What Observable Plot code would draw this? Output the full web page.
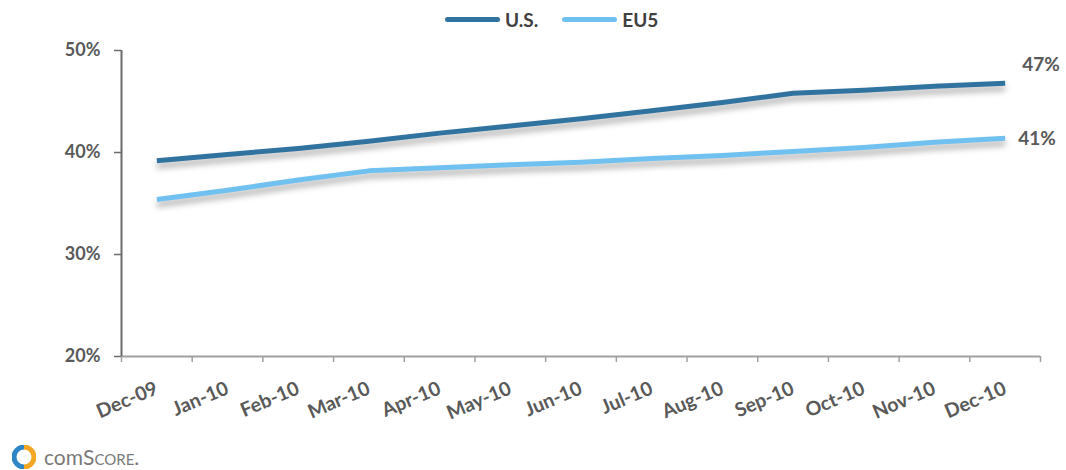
<!DOCTYPE html>
<html>
<head>
<meta charset="utf-8">
<script src="https://cdn.jsdelivr.net/npm/d3@7"></script>
<script src="https://cdn.jsdelivr.net/npm/@observablehq/plot@0.6"></script>
<style>
  html, body { margin: 0; padding: 0; background: #fff; }
  body { width: 1066px; height: 470px; position: relative; overflow: hidden; font-family: Lato, "Open Sans", sans-serif; }
  #legend { position: absolute; left: 445px; top: 5px; height: 28px; display: flex; align-items: center; font-weight: bold; font-size: 19px; color: #404040; }
  #legend .sw { display: inline-block; width: 55px; height: 5px; border-radius: 3px; margin-right: 5px; }
  #legend .item { display: flex; align-items: center; margin-right: 24px; }
  #chart { position: absolute; left: 0; top: 34px; }
  #logo { position: absolute; left: 12px; top: 444px; display: flex; align-items: center; color: #7a7a7a; font-size: 21px; }
  #logo span { font-variant: small-caps; }
</style>
</head>
<body>
<div id="legend"></div>
<div id="chart"></div>
<div id="logo"><svg width="24" height="24" viewBox="0 0 24 24"><path d="M12 2 A10 10 0 0 0 12 22" fill="none" stroke="#2f86c6" stroke-width="5"/><path d="M12 2 A10 10 0 0 1 12 22" fill="none" stroke="#f5a623" stroke-width="5"/></svg><div style="margin-left:8px">com<span>Score</span>.</div></div>
<script>
const months = ["Dec-09","Jan-10","Feb-10","Mar-10","Apr-10","May-10","Jun-10","Jul-10","Aug-10","Sep-10","Oct-10","Nov-10","Dec-10"];
const seriesNames = ["U.S.", "EU5"];
const usValues  = [39.2, 39.8, 40.4, 41.1, 41.9, 42.6, 43.3, 44.1, 44.9, 45.8, 46.1, 46.5, 46.8];
const eu5Values = [35.4, 36.3, 37.3, 38.2, 38.5, 38.8, 39.05, 39.4, 39.7, 40.1, 40.5, 41.0, 41.4];
const yTicks = [20, 30, 40, 50];
const colors = ["#31739f", "#70c1f0"];

const rows = [];
[usValues, eu5Values].forEach((vals, s) => vals.forEach((v, i) => rows.push({i, month: months[i], series: seriesNames[s], value: v})));
const lastIdx = months.length - 1;
const lastUS = rows.filter(d => d.i === lastIdx && d.series === "U.S.");
const lastEU = rows.filter(d => d.i === lastIdx && d.series === "EU5");

// legend
const lg = document.getElementById("legend");
seriesNames.forEach((nm, k) => {
  const it = document.createElement("div");
  it.className = "item";
  it.innerHTML = `<span class="sw" style="background:${colors[k]}"></span>${nm}`;
  lg.appendChild(it);
});

const n = months.length;
const plot = Plot.plot({
  width: 1066,
  height: 400,
  marginLeft: 121,
  marginRight: 26,
  marginTop: 16,
  marginBottom: 78,
  style: {fontFamily: "Lato, 'Open Sans', sans-serif", fontWeight: "bold", color: "#595959", background: "white"},
  x: {type: "linear", domain: [-0.5, n - 0.5], label: null, axis: null},
  y: {domain: [20, 50], label: null, axis: null},
  color: {domain: seriesNames, range: colors},
  marks: [
    Plot.axisY({ticks: yTicks, tickFormat: d => d + "%", tickSize: 7, tickPadding: 14, stroke: "#6b6b6b", strokeWidth: 1.5, fill: "#595959"}),
    Plot.axisX({ticks: d3.range(n + 1).map(k => k - 0.5), tickFormat: () => "", tickSize: 6, stroke: "#a0a0a0", strokeWidth: 1.5}),
    Plot.axisX({ticks: d3.range(n), tickFormat: i => months[i], tickSize: 0, tickPadding: 31, tickRotate: -23, fill: "#595959"}),
    Plot.ruleY([20], {stroke: "#a0a0a0", strokeWidth: 2}),
    Plot.ruleX([-0.5], {stroke: "#6b6b6b", strokeWidth: 2}),
    Plot.line(rows, {x: "i", y: "value", z: "series", stroke: "series", strokeWidth: 5, strokeLinecap: "butt", strokeLinejoin: "round"}),
    Plot.text(lastUS, {x: "i", y: "value", text: d => Math.round(d.value) + "%", textAnchor: "start", dx: 17, dy: -18, fill: "#595959"}),
    Plot.text(lastEU, {x: "i", y: "value", text: d => Math.round(d.value) + "%", textAnchor: "start", dx: 13, dy: 1, fill: "#595959"})
  ]
});
plot.querySelectorAll('g[aria-label="line"] path').forEach(p => {
  p.style.filter = "drop-shadow(0px 5px 3px rgba(0,0,0,0.33))";
});
plot.querySelectorAll("text").forEach(t => {
  t.style.fontSize = "18px";
  t.style.fontWeight = "bold";
  t.style.fontFamily = "Lato, 'Open Sans', sans-serif";
});
plot.querySelectorAll('g[aria-label="x-axis tick label"] text').forEach(t => { t.style.fontSize = "19.5px"; });
plot.querySelectorAll('g[aria-label="text"] text').forEach(t => { t.style.fontSize = "19px"; });
document.getElementById("chart").appendChild(plot);
</script>
</body>
</html>
